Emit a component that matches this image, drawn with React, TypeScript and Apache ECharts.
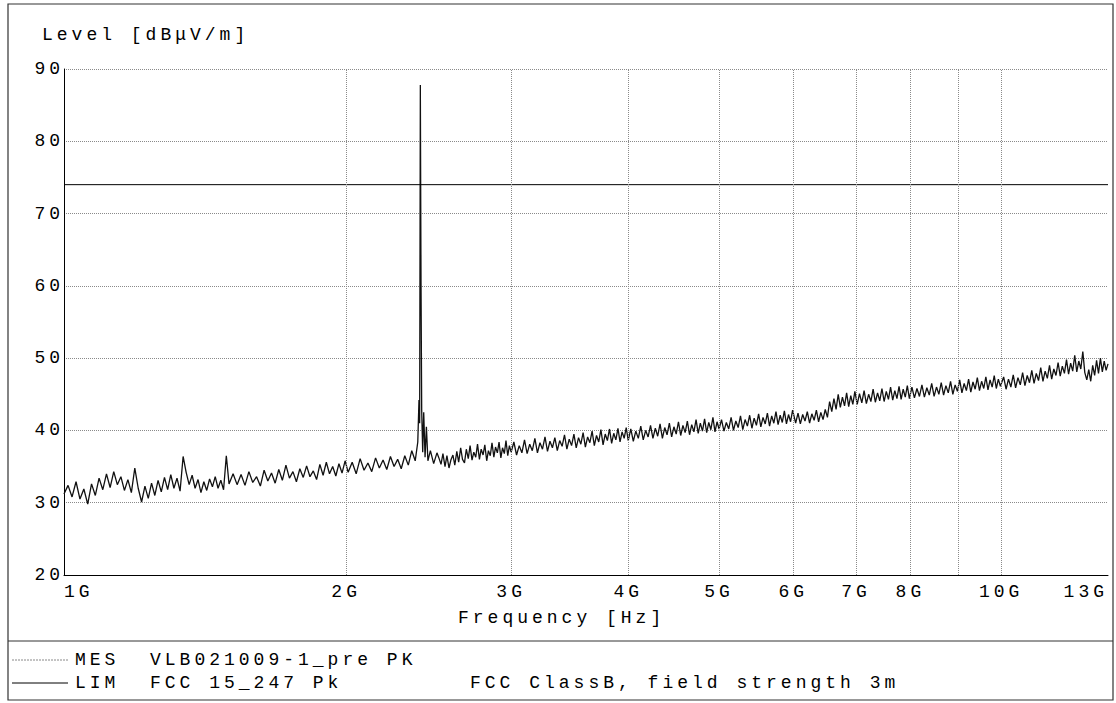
import React, { useEffect, useRef } from "react";
import * as echarts from "echarts";

// ---- data (frequency in MHz, level in dBµV/m) ----
const yTickLevels = [20, 30, 40, 50, 60, 70, 80, 90];
const xLabelFreqsGHz = [1, 2, 3, 4, 5, 6, 7, 8, 10, 13];
const xGridFreqsGHz = [2, 3, 4, 5, 6, 7, 8, 9, 10];
const limitTrace: [number, number][] = [
  [1000, 74],
  [13000, 74],
];
const mesTrace: [number, number][] = [
  [1000, 31.2], [1010, 32.4], [1020, 30.8], [1030, 32.9], [1040, 30.5], [1050, 31.9], [1060, 29.8], [1070, 32.6],
  [1080, 31.0], [1090, 33.4], [1100, 31.8], [1110, 34.0], [1120, 32.1], [1130, 34.3], [1140, 32.5], [1150, 33.6],
  [1160, 31.7], [1170, 33.2], [1180, 31.4], [1190, 34.8], [1200, 32.0], [1210, 30.1], [1220, 32.3], [1230, 30.6],
  [1240, 32.7], [1250, 31.0], [1260, 33.1], [1270, 31.5], [1280, 33.5], [1290, 31.8], [1300, 33.9], [1310, 32.0],
  [1320, 33.4], [1330, 31.6], [1340, 36.4], [1350, 34.2], [1360, 32.5], [1370, 33.8], [1380, 32.0], [1390, 33.2],
  [1400, 31.4], [1410, 32.9], [1420, 31.7], [1430, 33.3], [1440, 32.2], [1450, 33.6], [1460, 32.0], [1470, 33.1],
  [1480, 31.8], [1490, 36.5], [1500, 32.6],
  [1515, 34.0], [1530, 32.5], [1545, 33.9], [1560, 32.4], [1575, 34.3], [1590, 32.8], [1605, 33.6], [1620, 32.3],
  [1635, 34.5], [1650, 33.0], [1665, 34.1], [1680, 32.7], [1695, 34.6], [1710, 33.1], [1725, 35.2], [1740, 33.4],
  [1755, 34.3], [1770, 32.9], [1785, 34.7], [1800, 33.5], [1815, 35.1], [1830, 33.6], [1845, 34.4], [1860, 33.2],
  [1875, 35.3], [1890, 33.8], [1905, 35.6], [1920, 34.0], [1935, 35.0], [1950, 33.7], [1965, 35.4], [1980, 34.1],
  [1995, 35.8],
  [2010, 34.2], [2030, 35.6], [2050, 34.0], [2070, 36.1], [2090, 34.5], [2110, 35.5], [2130, 34.3], [2150, 36.2],
  [2170, 34.8], [2190, 35.9], [2210, 34.6], [2230, 36.4], [2250, 35.0], [2270, 36.0], [2290, 34.7], [2310, 36.5],
  [2330, 35.2], [2350, 37.2], [2370, 35.8], [2385, 38.4], [2392, 44.2], [2396, 41.0], [2400, 87.8], [2404, 60.5],
  [2408, 42.8], [2414, 37.0], [2420, 42.5], [2428, 36.3], [2436, 40.5], [2445, 35.8], [2460, 37.2], [2480, 35.4],
  [2500, 36.9],
  [2512, 36.2], [2525, 35.3], [2537, 36.8], [2550, 35.0], [2562, 36.5], [2575, 34.8], [2587, 35.9], [2600, 36.6],
  [2612, 35.2], [2625, 37.1], [2637, 35.6], [2650, 37.6], [2662, 36.0], [2675, 35.5], [2687, 37.4], [2700, 36.1],
  [2712, 37.9], [2725, 35.9], [2737, 37.0], [2750, 36.3], [2762, 38.1], [2775, 36.0], [2787, 37.4], [2800, 36.6],
  [2812, 38.0], [2825, 35.8], [2837, 37.2], [2850, 36.5], [2862, 38.3], [2875, 36.3], [2887, 37.7], [2900, 36.9],
  [2912, 38.4], [2925, 36.2], [2937, 37.6], [2950, 36.8], [2962, 38.6], [2975, 36.5], [2987, 37.9], [3000, 37.0],
  [3020, 38.4], [3040, 36.6], [3060, 37.9], [3080, 36.9], [3100, 38.7], [3120, 36.8], [3140, 38.1], [3160, 37.2],
  [3180, 38.9], [3200, 36.9], [3220, 38.3], [3240, 37.4], [3260, 39.1], [3280, 37.1], [3300, 38.5], [3320, 37.6],
  [3340, 39.0], [3360, 37.2], [3380, 38.6], [3400, 37.8], [3420, 39.4], [3440, 37.4], [3460, 38.8], [3480, 37.9],
  [3500, 39.5], [3520, 37.6], [3540, 39.0], [3560, 38.1], [3580, 39.7], [3600, 37.7], [3620, 39.1], [3640, 38.3],
  [3660, 39.9], [3680, 37.9], [3700, 39.3], [3720, 38.4], [3740, 40.1], [3760, 38.0], [3780, 39.5], [3800, 38.6],
  [3820, 40.2], [3840, 38.2], [3860, 39.6], [3880, 38.7], [3900, 40.3], [3920, 38.4], [3940, 39.8], [3960, 38.9],
  [3980, 40.4], [4000, 38.6],
  [4025, 40.2], [4050, 38.5], [4075, 39.9], [4100, 38.9], [4125, 40.6], [4150, 38.7], [4175, 40.0], [4200, 39.1],
  [4225, 40.7], [4250, 38.9], [4275, 40.3], [4300, 39.2], [4325, 40.9], [4350, 38.9], [4375, 40.4], [4400, 39.4],
  [4425, 41.0], [4450, 39.1], [4475, 40.5], [4500, 39.5], [4525, 41.2], [4550, 39.3], [4575, 40.7], [4600, 39.7],
  [4625, 41.3], [4650, 39.4], [4675, 40.8], [4700, 39.8], [4725, 41.5], [4750, 39.6], [4775, 41.0], [4800, 39.9],
  [4825, 41.6], [4850, 39.7], [4875, 41.1], [4900, 40.1], [4925, 41.8], [4950, 39.8], [4975, 41.2], [5000, 40.2],
  [5030, 41.5], [5060, 39.9], [5090, 41.1], [5120, 40.2], [5150, 41.8], [5180, 40.0], [5210, 41.3], [5240, 40.4],
  [5270, 42.0], [5300, 40.1], [5330, 41.5], [5360, 40.6], [5390, 42.1], [5420, 40.3], [5450, 41.7], [5480, 40.7],
  [5510, 42.3], [5540, 40.5], [5570, 41.8], [5600, 40.9], [5630, 42.4], [5660, 40.6], [5690, 42.0], [5720, 41.0],
  [5750, 42.6], [5780, 40.8], [5810, 42.1], [5840, 41.1], [5870, 42.7], [5900, 40.9], [5930, 42.2], [5960, 41.2],
  [5990, 42.8],
  [6035, 41.0], [6070, 42.4], [6105, 40.9], [6140, 42.2], [6175, 41.3], [6210, 42.6], [6245, 41.0], [6280, 42.3],
  [6315, 41.4], [6350, 42.8], [6385, 41.2], [6420, 42.5], [6455, 41.5], [6490, 42.9], [6525, 41.8], [6560, 44.0],
  [6595, 42.6], [6630, 44.4], [6665, 42.9], [6700, 45.0], [6735, 43.2], [6770, 44.6], [6805, 43.4], [6840, 45.2],
  [6875, 43.3], [6910, 44.8], [6945, 43.6], [6980, 45.4],
  [7020, 43.6], [7060, 45.1], [7100, 43.8], [7140, 45.5], [7180, 43.7], [7220, 45.0], [7260, 44.0], [7300, 45.7],
  [7340, 43.9], [7380, 45.2], [7420, 44.1], [7460, 45.8], [7500, 44.0], [7540, 45.4], [7580, 44.3], [7620, 46.0],
  [7660, 44.2], [7700, 45.5], [7740, 44.4], [7780, 46.1], [7820, 44.3], [7860, 45.7], [7900, 44.6], [7940, 46.2],
  [7980, 44.4],
  [8030, 46.0], [8080, 44.5], [8130, 45.8], [8180, 44.7], [8230, 46.3], [8280, 44.6], [8330, 45.9], [8380, 44.9],
  [8430, 46.5], [8480, 44.7], [8530, 46.0], [8580, 45.0], [8630, 46.6], [8680, 44.9], [8730, 46.2], [8780, 45.2],
  [8830, 46.8], [8880, 45.0], [8930, 46.3], [8980, 45.4], [9030, 47.0], [9080, 45.2], [9130, 46.5], [9180, 45.5],
  [9230, 47.1], [9280, 45.3], [9330, 46.7], [9380, 45.7], [9430, 47.3], [9480, 45.5], [9530, 46.8], [9580, 45.8],
  [9630, 47.4], [9680, 45.6], [9730, 47.0], [9780, 46.0], [9830, 47.6], [9880, 45.8], [9930, 47.1], [9980, 46.1],
  [10060, 47.4], [10120, 45.7], [10180, 47.1], [10240, 46.0], [10300, 47.7], [10360, 45.9], [10420, 47.3], [10480, 46.3],
  [10540, 48.0], [10600, 46.2], [10660, 47.6], [10720, 46.6], [10780, 48.3], [10840, 46.5], [10900, 47.9], [10960, 46.9],
  [11020, 48.7], [11080, 46.8], [11140, 48.2], [11200, 47.2], [11260, 49.0], [11320, 47.1], [11380, 48.5], [11440, 47.6],
  [11500, 49.4], [11560, 47.5], [11620, 48.9], [11680, 47.9], [11740, 49.8], [11800, 47.8], [11860, 49.3], [11920, 48.2],
  [11980, 50.4], [12040, 48.1], [12100, 49.6], [12160, 48.5], [12220, 50.9], [12280, 48.0], [12340, 47.0], [12400, 48.4],
  [12460, 46.8], [12520, 49.0], [12580, 47.6], [12640, 49.7], [12700, 47.9], [12760, 50.0], [12820, 48.1], [12880, 49.6],
  [12940, 48.3], [13000, 49.2],
];

const FONT = '"Liberation Mono", "DejaVu Sans Mono", monospace';
const FS = 18;

export default function App() {
  const ref = useRef<HTMLDivElement>(null);

  useEffect(() => {
    if (!ref.current) return;
    const chart = echarts.init(ref.current, undefined, { renderer: "svg" });
    const txt = (text: string, x: number, y: number) => ({
      type: "text",
      x,
      y,
      style: { text, fill: "#000", font: `${FS}px ${FONT}`, textVerticalAlign: "middle", textAlign: "left" },
    });

    chart.setOption({
      animation: false,
      backgroundColor: "#fff",
      textStyle: { fontFamily: FONT, fontSize: FS, color: "#000" },
      grid: { left: 64, top: 69, right: 8, bottom: 128, containLabel: false },
      xAxis: {
        type: "log",
        logBase: 10,
        min: 1,
        max: 13,
        axisLine: { show: true, lineStyle: { color: "#000", width: 1 } },
        axisTick: { show: false },
        axisLabel: { show: false },
        splitLine: { show: false },
      },
      yAxis: {
        type: "value",
        min: yTickLevels[0],
        max: yTickLevels[yTickLevels.length - 1],
        interval: 10,
        axisLine: { show: true, lineStyle: { color: "#000", width: 1 } },
        axisTick: { show: false },
        axisLabel: { color: "#000", fontFamily: FONT, fontSize: FS, margin: 0 },
        splitLine: { show: true, lineStyle: { color: "#8a8a8a", type: "dotted", width: 1 } },
      },
      series: [
        {
          name: "MES",
          type: "line",
          data: mesTrace.map(([f, v]) => [f / 1000, v]),
          showSymbol: false,
          symbol: "none",
          lineStyle: { color: "#111", width: 1.3 },
          z: 3,
          markLine: {
            silent: true,
            symbol: ["none", "none"],
            lineStyle: { color: "rgba(0,0,0,0)", width: 1 },
            label: {
              show: true,
              position: "start",
              distance: 8,
              color: "#000",
              fontFamily: FONT,
              fontSize: FS,
              formatter: (p: any) => `${p.value}G`,
            },
            data: xLabelFreqsGHz.map((f, i) => ({
              xAxis: f,
              label:
                i === 0
                  ? { align: "left" }
                  : i === xLabelFreqsGHz.length - 1
                  ? { align: "right" }
                  : {},
            })),
          },
        },
        {
          name: "LIM",
          type: "line",
          data: limitTrace.map(([f, v]) => [f / 1000, v]),
          showSymbol: false,
          symbol: "none",
          lineStyle: { color: "#000", width: 1 },
          z: 4,
          markLine: {
            silent: true,
            symbol: ["none", "none"],
            label: { show: false },
            lineStyle: { color: "#8a8a8a", type: "dotted", width: 1 },
            data: xGridFreqsGHz.map((f) => ({ xAxis: f })),
          },
        },
      ],
      graphic: [
        { type: "rect", shape: { x: 8, y: 4, width: 1105, height: 696 }, style: { fill: "none", stroke: "#333", lineWidth: 1.2 } },
        { type: "line", shape: { x1: 8, y1: 641, x2: 1113, y2: 641 }, style: { stroke: "#333", lineWidth: 1 } },
        txt("Level [dBμV/m]", 42, 35),
        txt("Frequency [Hz]", 458, 618),
        { type: "line", shape: { x1: 12, y1: 660, x2: 68, y2: 660 }, style: { stroke: "#888", lineWidth: 1, lineDash: [2, 1] } },
        { type: "line", shape: { x1: 12, y1: 683, x2: 68, y2: 683 }, style: { stroke: "#000", lineWidth: 1 } },
        txt("MES", 75, 660),
        txt("VLB021009-1_pre PK", 150, 660),
        txt("LIM", 75, 683),
        txt("FCC 15_247 Pk", 150, 683),
        txt("FCC ClassB, field strength 3m", 470, 683),
      ],
    });
    return () => chart.dispose();
  }, []);

  return (
    <>
      <style>{`#chartbox text { letter-spacing: 4px; }`}</style>
      <div
        id="chartbox"
        ref={ref}
        style={{ position: "fixed", left: 0, top: 0, width: 1116, height: 703, background: "#fff" }}
      />
    </>
  );
}
